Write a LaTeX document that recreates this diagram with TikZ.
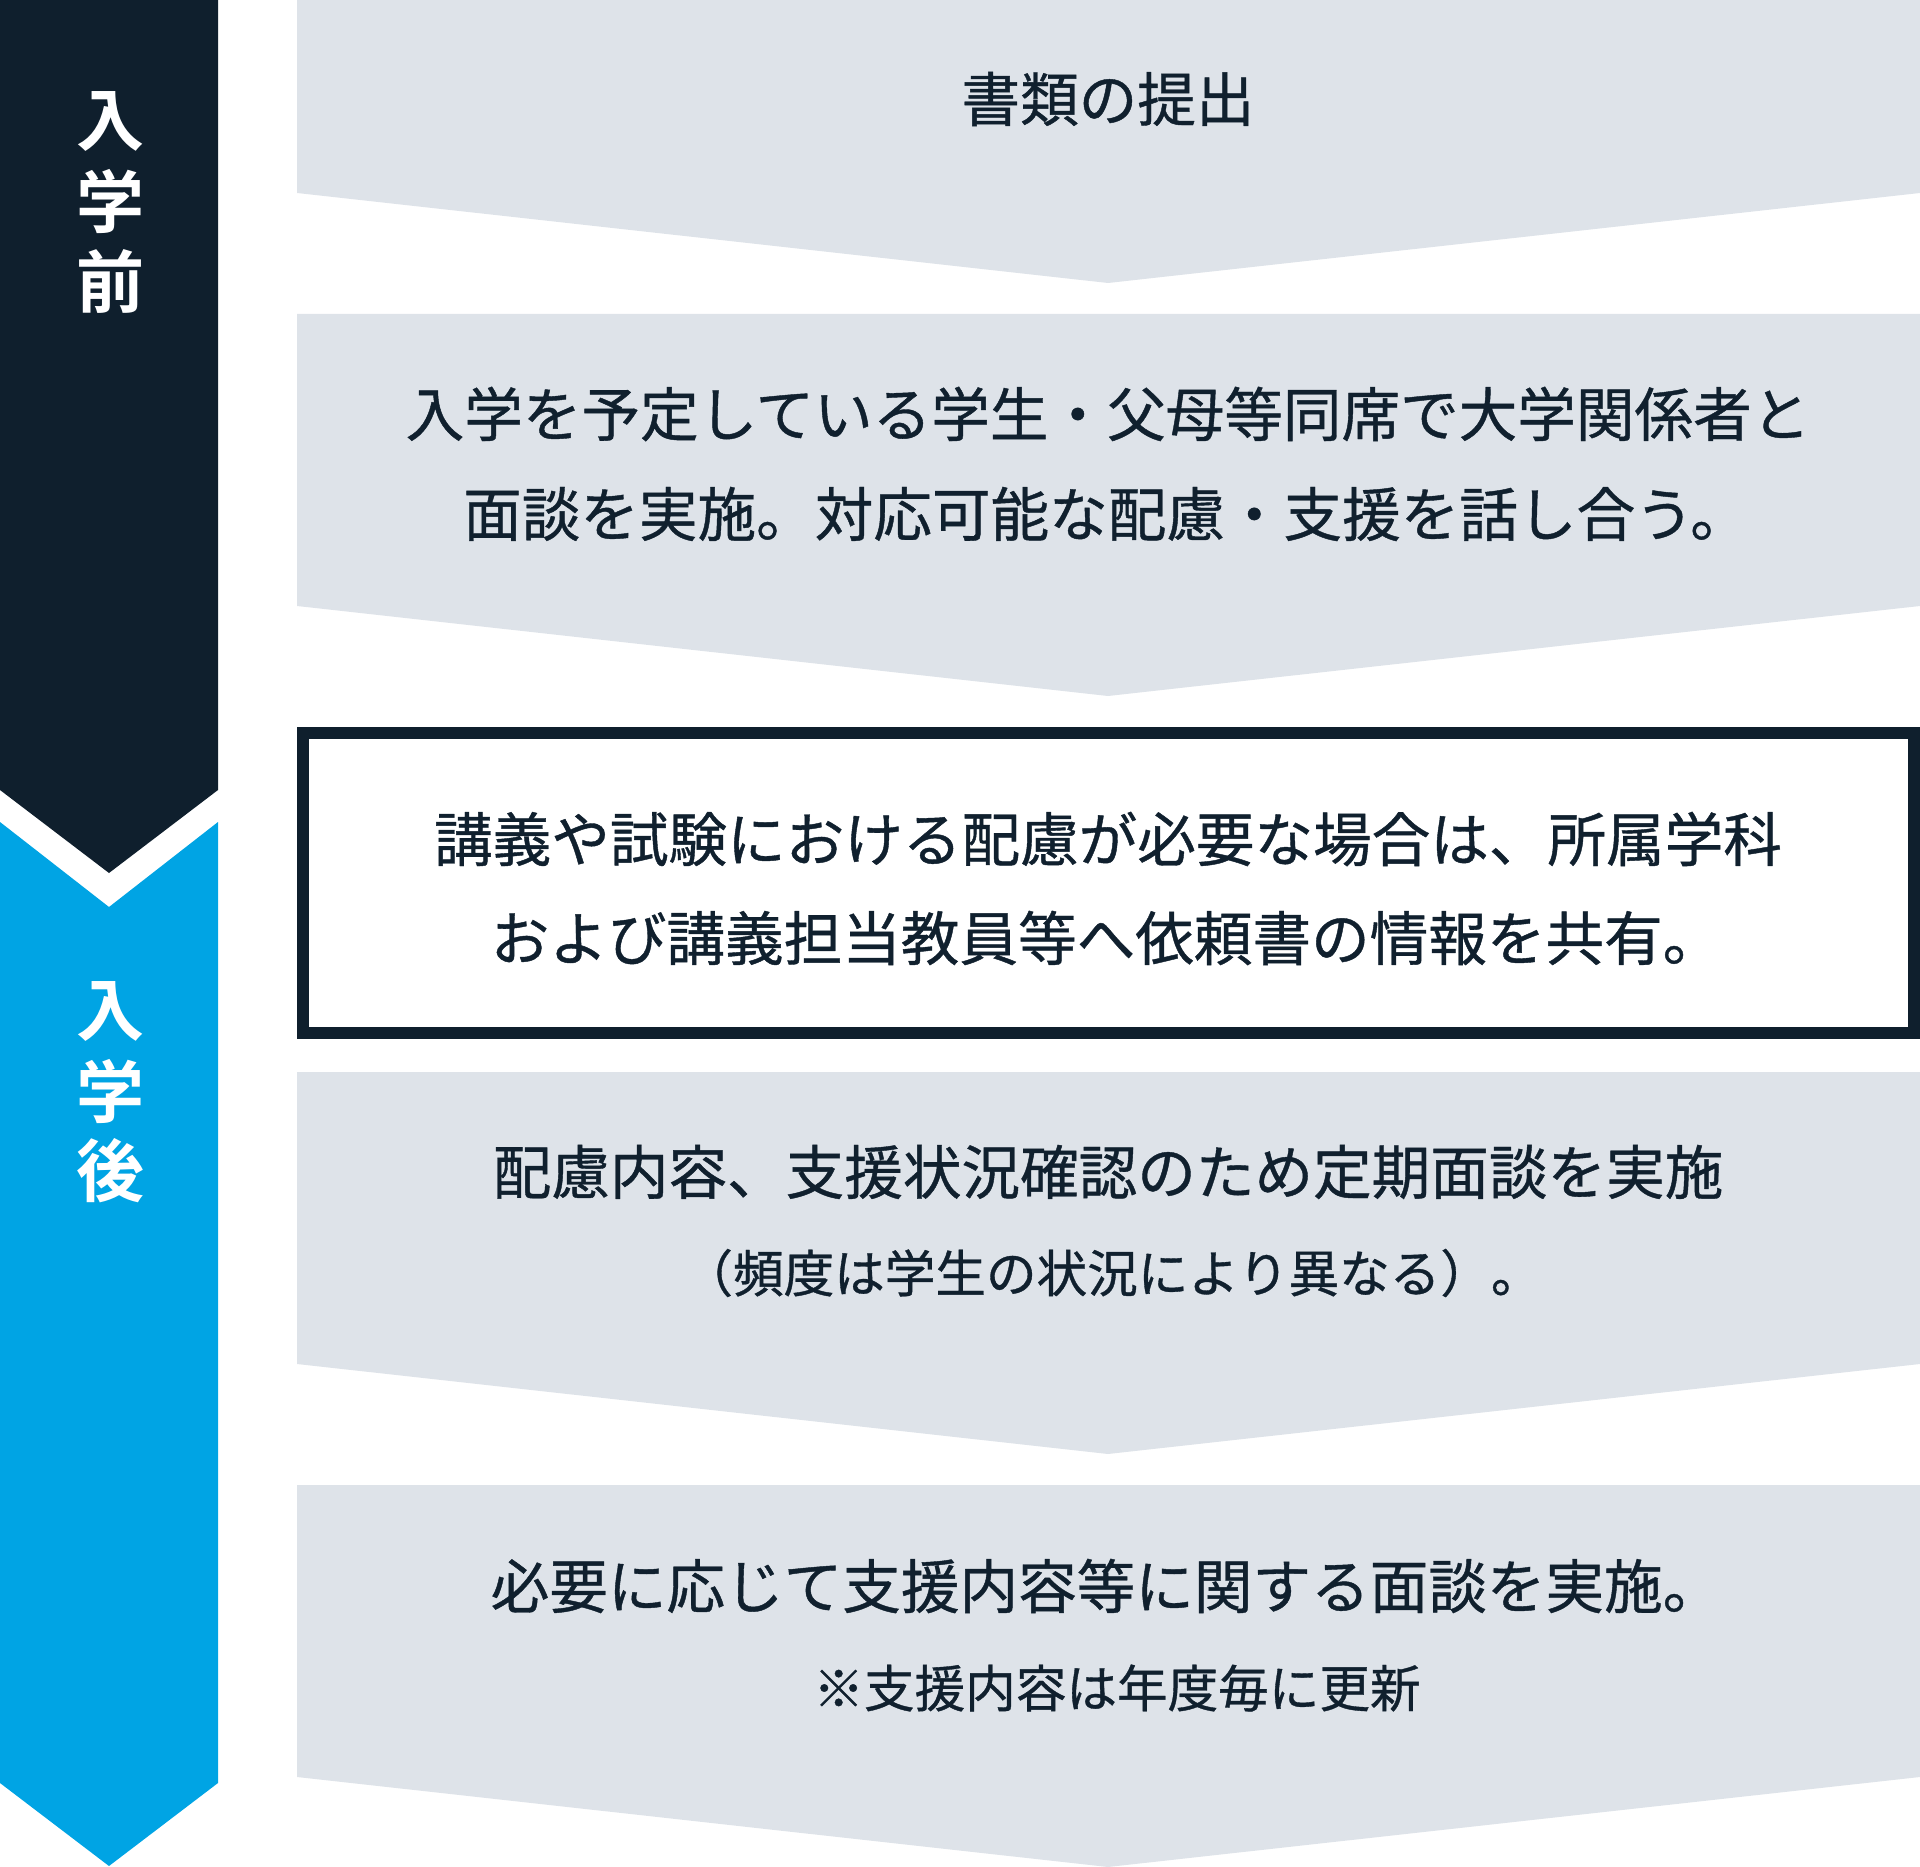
\documentclass[tikz,border=0pt]{standalone}
\usepackage{fontspec}
\setmainfont{Noto Sans CJK JP}[FakeBold=0.7]
\newfontfamily\jpbold{Noto Sans CJK JP Bold}
\definecolor{navy}{HTML}{0F1F2D}
\definecolor{skyblue}{HTML}{00A4E4}
\definecolor{paleGray}{HTML}{DEE3E9}
\definecolor{ink}{HTML}{10202E}
\tikzset{
  band/.style={draw=none},
  stepshape/.style={fill=paleGray,draw=none},
  maintext/.style={inner sep=0pt,anchor=center,text=ink,font=\fontsize{58.6}{70}\selectfont},
  subtext/.style={inner sep=0pt,anchor=center,text=ink,font=\fontsize{50.6}{60}\selectfont},
  sidelabel/.style={inner sep=0pt,anchor=center,text=white,font=\jpbold\fontsize{68}{80}\selectfont}
}
\begin{document}
\begin{tikzpicture}[x=1pt,y=-1pt]
\useasboundingbox (0,0) rectangle (1920,1867);
% left bands
\fill[navy] (0,0) -- (218,0) -- (218,790) -- (109,873) -- (0,790) -- cycle;
\fill[skyblue] (0,822) -- (109,907) -- (218,822) -- (218,1783) -- (109,1866) -- (0,1783) -- cycle;
\node[sidelabel] (pre1) at (110,121) {入};
\node[sidelabel] (pre2) at (110,201) {学};
\node[sidelabel] (pre3) at (110,281) {前};
\node[sidelabel] (post1) at (110,1011) {入};
\node[sidelabel] (post2) at (110,1091) {学};
\node[sidelabel] (post3) at (110,1171) {後};
% step shapes
\fill[stepshape] (297,0) -- (1920,0) -- (1920,193) -- (1108,283) -- (297,193) -- cycle;
\fill[stepshape] (297,314) -- (1920,314) -- (1920,606) -- (1108,696) -- (297,606) -- cycle;
\draw[navy,line width=12pt] (303,733) rectangle (1914,1033);
\fill[stepshape] (297,1072) -- (1920,1072) -- (1920,1364) -- (1108,1454) -- (297,1364) -- cycle;
\fill[stepshape] (297,1485) -- (1920,1485) -- (1920,1777) -- (1108,1867) -- (297,1777) -- cycle;
% texts
\node[maintext] (s1) at (1108,99) {書類の提出};
\node[maintext] (s2a) at (1108,414) {入学を予定している学生・父母等同席で大学関係者と};
\node[maintext] (s2b) at (1106,514) {面談を実施。対応可能な配慮・支援を話し合う。};
\node[maintext] (s3a) at (1108,839) {講義や試験における配慮が必要な場合は、所属学科};
\node[maintext] (s3b) at (1106,938) {および講義担当教員等へ依頼書の情報を共有。};
\node[maintext] (s4a) at (1108,1172) {配慮内容、支援状況確認のため定期面談を実施};
\node[subtext] (s4b) at (1112,1273) {（頻度は学生の状況により異なる）。};
\node[maintext] (s5a) at (1106,1586) {必要に応じて支援内容等に関する面談を実施。};
\node[subtext] (s5b) at (1117,1688) {※支援内容は年度毎に更新};
\end{tikzpicture}
\end{document}
